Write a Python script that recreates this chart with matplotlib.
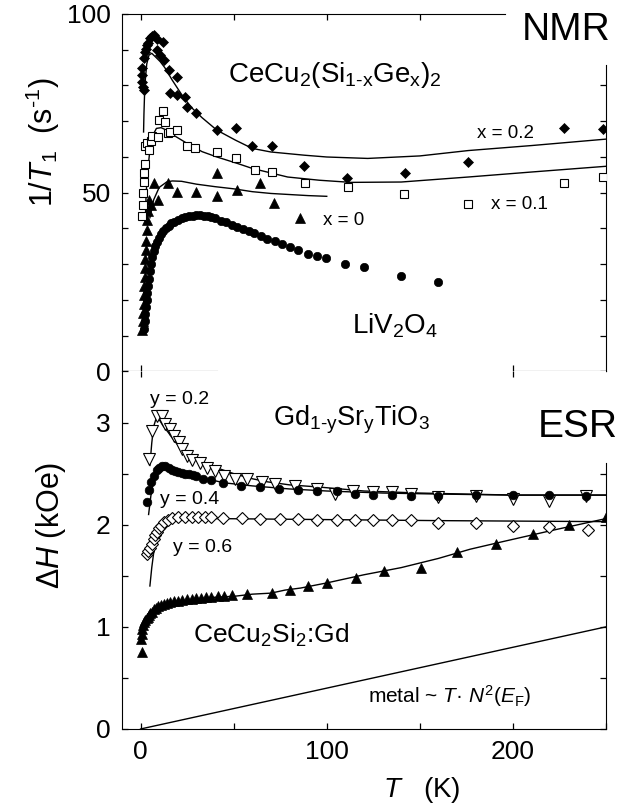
import numpy as np
import matplotlib.pyplot as plt

plt.rcParams['font.family'] = ['Liberation Sans', 'DejaVu Sans']
plt.rcParams['mathtext.fontset'] = 'custom'
plt.rcParams['mathtext.rm'] = 'Liberation Sans'
plt.rcParams['mathtext.it'] = 'Liberation Sans:italic'
plt.rcParams['mathtext.bf'] = 'Liberation Sans:bold'

# ---------------- NMR data: 1/T1 (s^-1) vs T (K) ----------------
x02_T = [0.8, 1.0, 1.0, 1.2, 1.6, 1.6, 2.2, 2.8, 3.2, 4.0, 4.9, 6.0, 7.0, 9.0, 12.0, 8.6, 10.5, 12.4,
         15.0, 19.4, 15.6, 19.4, 23.7, 24.8, 30.0, 41.0, 51.0, 60.0, 70.5, 88.0, 111.0, 142.0, 176.0,
         227.5, 248.5]
x02_v = [83, 81, 85, 79.5, 78.7, 87.7, 89.4, 90.2, 91.3, 92.0, 93.3, 93.8, 94.0, 93.0, 92.3, 90.0, 88.5, 87.0,
         84.3, 82.4, 78.0, 77.3, 76.8, 74.0, 72.3, 67.5, 68.0, 63.0, 63.0, 57.5, 54.0, 55.4, 58.5,
         68.0, 67.7]
fit_x02_T = [1.6, 1.8, 2.1, 2.6, 3.3, 4.5, 6, 8, 10.5, 13, 17, 22, 27, 33, 41, 51, 60, 70, 88, 100, 122,
             150, 176, 210, 250]
fit_x02_v = [67, 72, 77, 82, 86, 88.5, 89, 88, 86.7, 85, 81.5, 77.5, 74, 71, 67.5, 64.7, 62.4, 61.4, 60.5,
             60.0, 59.6, 60.3, 61.8, 63.2, 65.0]

x01_T = [1.0, 1.1, 1.4, 1.7, 2.0, 2.3, 2.6, 3.2, 4.3, 5.4, 6.2, 9.3, 10.0, 12.0, 13.0, 14.5, 16.0, 19.5,
         25.0, 29.0, 41.0, 51.0, 61.5, 70.5, 88.5, 111.5, 141.5, 176.0, 227.5, 248.5]
x01_v = [43.5, 46.5, 50.0, 53.0, 55.5, 58.0, 63.0, 64.0, 62.0, 64.5, 66.0, 65.5, 70.3, 73.0, 69.8, 66.8,
         67.0, 67.5, 63.0, 62.5, 61.5, 59.7, 56.3, 55.8, 52.6, 51.5, 49.6, 46.8, 52.8, 54.4]
fit_x01_T = [2.5, 3, 4, 5, 6.5, 8.5, 11, 14, 18, 25, 33, 41, 52, 60, 79, 96, 113, 140, 176, 210, 250]
fit_x01_v = [42, 50, 57, 62, 66, 68, 68.2, 67.5, 66, 63.8, 61.5, 60, 58.2, 56.8, 54.4, 53.5, 52.9, 53.0,
             54.4, 55.8, 57.4]

x0_T = [1.0, 1.2, 1.4, 1.6, 1.8, 2.0, 2.2, 2.4, 2.6, 2.8, 3.0, 3.3, 3.6, 4.0, 4.5, 5.5, 7.0, 9.5, 14.5,
        19.5, 30.0, 41.0, 41.0, 52.0, 64.0, 71.7, 85.7]
x0_v = [11.5, 14, 16.5, 19, 21.5, 24, 26.5, 29, 31.5, 34, 36.5, 39.5, 42.5, 45, 48, 46.5, 52.6, 48.0, 52.6,
        50.3, 50.3, 55.4, 49.2, 50.8, 52.7, 47.0, 42.9]
fit_x0_T = [5, 7, 10, 14, 17, 22, 30, 40, 50, 60, 70, 80, 90, 100]
fit_x0_v = [43, 48, 51.5, 53, 53.3, 53.2, 52.4, 51.7, 51.1, 50.3, 49.8, 49.5, 49.2, 49.0]

liv_T = [2.0, 2.3, 2.6, 2.9, 3.2, 3.6, 4.0, 4.5, 5.0, 5.6, 6.3, 7.0, 7.8, 8.7, 9.7, 10.8, 12, 13.5, 15,
         16.5, 18, 20, 22, 24, 26, 28, 30, 32, 34, 36, 38, 40, 43, 46, 49, 52, 55, 58, 61, 64.5, 68, 72,
         76, 80, 84.5, 90, 95, 99.5, 110, 120, 140, 160]
liv_v = [12, 14, 16, 18, 20, 22, 24, 26, 28, 30, 32, 33.6, 35, 36.3, 37.4, 38.4, 39.3, 40.1, 40.8,
         41.4, 41.9, 42.4, 42.8, 43.1, 43.4, 43.6, 43.7, 43.7, 43.6, 43.4, 43.1, 42.8, 42.2, 41.7, 41.1,
         40.5, 39.9, 39.3, 38.7, 38.0, 37.2, 36.5, 35.6, 34.8, 33.9, 33.0, 32.4, 31.7, 30.1, 29.2,
         26.8, 25.0]

# ---------------- ESR data: linewidth (kOe) vs T (K) ----------------
y02_T = [4.3, 5.9, 8.6, 11.3, 13.0, 15.6, 17.8, 20.5, 22.0, 24.8, 27.5, 31.8, 35.6, 40.0, 45.0, 50.7,
         57.0, 65.0, 72.0, 83.0, 95.0, 104.5, 114.0, 125.0, 135.0, 145.0, 159.5, 180.0, 200.0, 219.5,
         239.5]
y02_v = [2.64, 2.92, 3.06, 3.06, 2.99, 2.94, 2.87, 2.81, 2.74, 2.67, 2.63, 2.60, 2.56, 2.53, 2.48, 2.45,
         2.45, 2.42, 2.40, 2.38, 2.35, 2.30, 2.33, 2.32, 2.32, 2.30, 2.27, 2.28, 2.25, 2.23, 2.28]
fit_y02_T = [5.0, 6.0, 7.0, 8.5, 10, 12, 15, 18.5, 22.7, 27.5, 35.5, 42, 50, 60, 68, 80, 95, 120, 150,
             200, 250]
fit_y02_v = [2.58, 2.80, 2.96, 3.05, 3.03, 2.97, 2.90, 2.81, 2.74, 2.66, 2.60, 2.55, 2.50, 2.45, 2.42,
             2.39, 2.37, 2.33, 2.31, 2.29, 2.29]

y04_T = [3.5, 4.6, 5.6, 7.0, 8.6, 10.0, 11.3, 13.0, 15.0, 16.7, 18.3, 20.0, 22.0, 24.0, 25.8, 28.0, 30.0,
         33.5, 38.0, 44.0, 54.0, 64.0, 74.5, 84.5, 95.0, 105.5, 115.0, 125.0, 135.0, 145.0, 159.5,
         180.0, 200.0, 219.5, 239.5]
y04_v = [2.22, 2.34, 2.42, 2.48, 2.54, 2.56, 2.57, 2.57, 2.56, 2.54, 2.53, 2.52, 2.51, 2.50, 2.50, 2.49,
         2.48, 2.45, 2.44, 2.41, 2.38, 2.37, 2.35, 2.34, 2.33, 2.33, 2.30, 2.29, 2.29, 2.28, 2.28,
         2.29, 2.29, 2.29, 2.28]
fit_y04_T = [4.3, 5.5, 7, 8.5, 10, 12, 16, 22, 27.5, 35, 45, 60, 80, 100, 130, 160, 200, 250]
fit_y04_v = [2.10, 2.28, 2.44, 2.53, 2.56, 2.57, 2.55, 2.51, 2.48, 2.45, 2.41, 2.38, 2.35, 2.33, 2.31,
             2.30, 2.29, 2.29]

y06_T = [3.3, 4.2, 5.0, 6.0, 7.0, 8.0, 9.0, 10.0, 11.0, 12.4, 14.5, 17.0, 20.0, 23.7, 27.5, 31.0, 34.5,
         38.0, 44.0, 54.5, 64.0, 75.0, 84.5, 95.0, 105.5, 115.0, 125.0, 135.0, 145.0, 160.0, 180.0,
         200.0, 219.5, 240.5]
y06_v = [1.71, 1.74, 1.77, 1.81, 1.86, 1.90, 1.93, 1.97, 1.99, 2.03, 2.05, 2.07, 2.08, 2.08, 2.08, 2.08,
         2.08, 2.08, 2.07, 2.07, 2.06, 2.06, 2.06, 2.05, 2.05, 2.05, 2.05, 2.05, 2.05, 2.02, 2.02,
         1.99, 1.98, 1.95]
fit_y06_T = [5, 6, 7, 8.5, 10, 12, 14.5, 17, 22, 40, 100, 160, 250]
fit_y06_v = [1.40, 1.58, 1.72, 1.84, 1.93, 1.99, 2.03, 2.05, 2.06, 2.06, 2.05, 2.04, 2.03]

ce_T = [0.5, 0.3, 0.6, 1.0, 1.5, 2.0, 2.6, 3.2, 3.8, 4.5, 5.3, 6.2, 7.2, 8.3, 9.5, 11, 12.5, 14, 16, 18,
        20, 22.5, 25, 27.5, 30, 32.5, 35, 38, 41.5, 45, 49, 57, 70.5, 80, 90, 100, 115.5, 130.5,
        150.5, 170, 191, 211, 230, 250]
ce_v = [0.75, 0.88, 0.93, 0.98, 1.02, 1.05, 1.07, 1.09, 1.10, 1.12, 1.14, 1.15, 1.17, 1.18, 1.20, 1.21,
        1.22, 1.23, 1.24, 1.25, 1.25, 1.26, 1.27, 1.27, 1.28, 1.28, 1.29, 1.29, 1.30, 1.30, 1.31, 1.32,
        1.33, 1.36, 1.40, 1.43, 1.48, 1.55, 1.58, 1.73, 1.81, 1.91, 2.00, 2.08]
fit_ce_T = [2, 5, 10, 20, 30, 40, 50.7, 60, 70, 77.6, 86, 100, 120, 140, 160, 177, 193.5, 220, 250]
fit_ce_v = [1.02, 1.10, 1.18, 1.24, 1.27, 1.29, 1.30, 1.32, 1.33, 1.36, 1.38, 1.43, 1.51, 1.58, 1.67,
            1.76, 1.83, 1.94, 2.06]

metal_T = [0, 250]
metal_v = [0, 1.0]

fig = plt.figure(figsize=(6.44, 8.09), dpi=100)
ax1 = fig.add_axes([0.1894, 0.5408, 0.7516, 0.4419])
ax2 = fig.add_axes([0.1894, 0.0989, 0.7516, 0.4419])

lw = 1.0
tick_kw = dict(direction='in', length=4, width=0.9)

# ---------------- top panel (NMR) ----------------
ax1.plot(fit_x02_T, fit_x02_v, 'k-', lw=lw)
ax1.plot(fit_x01_T, fit_x01_v, 'k-', lw=lw)
ax1.plot(fit_x0_T, fit_x0_v, 'k-', lw=lw)
ax1.plot(liv_T, liv_v, 'o', color='k', ms=6, mew=0.5)
ax1.plot(x0_T, x0_v, '^', color='k', ms=6.5, mew=0.5)
ax1.plot(x01_T, x01_v, 's', mfc='white', mec='k', ms=6, mew=0.8)
ax1.plot(x02_T, x02_v, 'D', color='k', ms=5.2, mew=0.5)

ax1.set_xlim(-10, 250)
ax1.set_ylim(0, 100)
ax1.spines['top'].set_bounds(-10, 196)
ax1.spines['bottom'].set_bounds(-10, 41)
ax1.spines['right'].set_visible(False)
ax1.plot([200, 250], [0, 0], 'k-', lw=0.8, clip_on=False)
for s in ax1.spines.values():
    s.set_linewidth(0.8)

ax1.set_yticks([0, 50, 100])
ax1.set_yticks(np.arange(0, 101, 10), minor=True)
ax1.set_xticks([0, 200])
ax1.tick_params(which='both', left=True, right=False, top=False, bottom=True, labelbottom=False,
                labelsize=19, pad=8, **tick_kw)

sec_r1 = ax1.secondary_yaxis('right')
sec_r1.set_yticks(np.arange(0, 81, 10))
sec_r1.tick_params(labelright=False, **tick_kw)
sec_r1.spines['right'].set_bounds(0, 85.7)
sec_r1.spines['right'].set_linewidth(0.8)

sec_t1 = ax1.secondary_xaxis('top')
sec_t1.set_xticks([0, 50, 100, 150])
sec_t1.tick_params(labeltop=False, **tick_kw)
sec_t1.spines['top'].set_visible(False)

ax1.text(47, 81, r'CeCu$_{\mathrm{2}}$(Si$_{\mathrm{1‐x}}$Ge$_{\mathrm{x}}$)$_{\mathrm{2}}$', fontsize=20)
ax1.text(180.6, 65.3, 'x = 0.2', fontsize=13.5)
ax1.text(188, 45.4, 'x = 0.1', fontsize=13.5)
ax1.text(98, 40.9, 'x = 0', fontsize=13.5)
ax1.text(113.7, 10.6, r'LiV$_{\mathrm{2}}$O$_{\mathrm{4}}$', fontsize=20)
ax1.text(205, 92.7, 'NMR', fontsize=28)

# ---------------- bottom panel (ESR) ----------------
ax2.plot(metal_T, metal_v, 'k-', lw=lw)
ax2.plot(fit_ce_T, fit_ce_v, 'k-', lw=lw)
ax2.plot(fit_y06_T, fit_y06_v, 'k-', lw=lw)
ax2.plot(fit_y04_T, fit_y04_v, 'k-', lw=lw)
ax2.plot(fit_y02_T, fit_y02_v, 'k-', lw=lw)
ax2.plot(ce_T, ce_v, '^', color='k', ms=6.5, mew=0.5)
ax2.plot(y06_T, y06_v, 'D', mfc='white', mec='k', ms=6.5, mew=0.8)
ax2.plot(y02_T, y02_v, 'v', mfc='white', mec='k', ms=8, mew=0.8)
ax2.plot(y04_T, y04_v, 'o', color='k', ms=6.2, mew=0.5)

ax2.set_xlim(-10, 250)
ax2.set_ylim(0, 3.5)
ax2.spines['top'].set_visible(False)
ax2.spines['right'].set_visible(False)
for s in ax2.spines.values():
    s.set_linewidth(0.8)

ax2.set_yticks([0, 1, 2, 3])
ax2.set_yticks(np.arange(0, 3.51, 0.5), minor=True)
ax2.set_xticks([0, 100, 200])
ax2.set_xticks(np.arange(0, 251, 50), minor=True)
ax2.tick_params(which='both', left=True, right=False, top=False, bottom=True,
                labelsize=19, pad=8, **tick_kw)

sec_r2 = ax2.secondary_yaxis('right')
sec_r2.set_yticks(np.arange(0, 2.51, 0.5))
sec_r2.tick_params(labelright=False, **tick_kw)
sec_r2.spines['right'].set_bounds(0, 2.6)
sec_r2.spines['right'].set_linewidth(0.8)

sec_t2 = ax2.secondary_xaxis('top')
sec_t2.set_xticks([0, 200])
sec_t2.tick_params(labeltop=False, **tick_kw)
sec_t2.spines['top'].set_visible(False)

ax2.text(71, 2.97, r'Gd$_{\mathrm{1‐y}}$Sr$_{\mathrm{y}}$TiO$_{\mathrm{3}}$', fontsize=19.5)
ax2.text(213.5, 2.86, 'ESR', fontsize=28)
ax2.text(4.9, 3.18, 'y = 0.2', fontsize=14)
ax2.text(10.2, 2.2, 'y = 0.4', fontsize=14)
ax2.text(17.3, 1.73, 'y = 0.6', fontsize=14)
ax2.text(28, 0.845, r'CeCu$_{\mathrm{2}}$Si$_{\mathrm{2}}$:Gd', fontsize=19)
ax2.text(122.4, 0.255, r'metal ~ $T$· $N^{\mathrm{2}}$($E_{\mathrm{F}}$)', fontsize=15)

# axis labels
fig.text(0.0668, 0.8245, r'1/$T_{\mathrm{1}}$  (s$^{\mathrm{‐1}}$)', rotation=90,
         ha='center', va='center', fontsize=22)
fig.text(0.079, 0.351, r'Δ$H$ (kOe)', rotation=90, ha='center', va='center', fontsize=22)
fig.text(0.655, 0.0235, r'$T$   (K)', ha='center', va='center', fontsize=20)

fig.savefig('out.png', dpi=100)
